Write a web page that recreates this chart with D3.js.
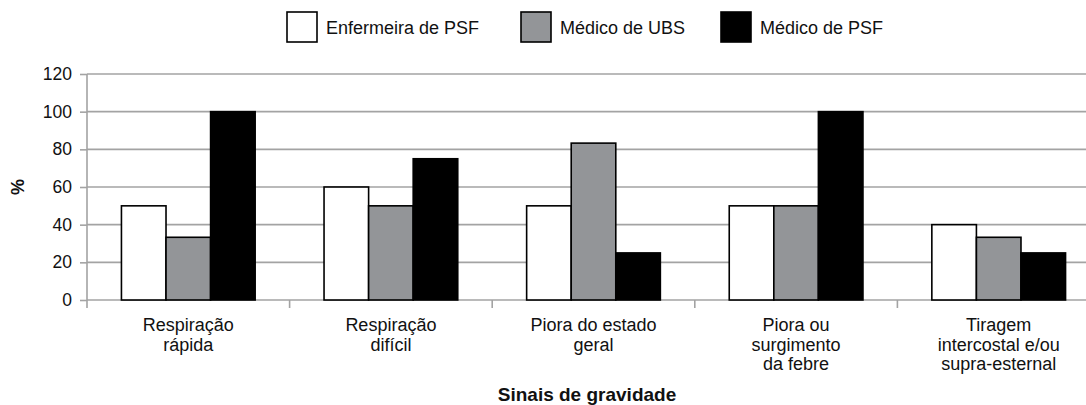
<!DOCTYPE html>
<html>
<head>
<meta charset="utf-8">
<script src="https://cdn.jsdelivr.net/npm/d3@7"></script>
<style>
  html, body { margin: 0; padding: 0; background: #fff; }
  svg { display: block; font-family: "Liberation Sans", Arial, Helvetica, sans-serif; }
</style>
</head>
<body>
<svg id="chart" width="1086" height="405"></svg>
<script>
const categories = [
  ["Respiração", "rápida"],
  ["Respiração", "difícil"],
  ["Piora do estado", "geral"],
  ["Piora ou", "surgimento", "da febre"],
  ["Tiragem", "intercostal e/ou", "supra-esternal"]
];
const seriesNames = ["Enfermeira de PSF", "Médico de UBS", "Médico de PSF"];
const enfermeiraPSF = [50, 60, 50, 50, 40];
const medicoUBS = [33.3, 50, 83.3, 50, 33.3];
const medicoPSF = [100, 75, 25, 100, 25];
const yTicks = [0, 20, 40, 60, 80, 100, 120];
const xTitle = "Sinais de gravidade";
const yTitle = "%";

const seriesValues = [enfermeiraPSF, medicoUBS, medicoPSF];
const fills = ["#ffffff", "#939598", "#000000"];

const svg = d3.select("#chart");
const mLeft = 87, mRight = 1100, mTop = 74, mBottom = 300;
const catKeys = categories.map((c, i) => i);

const x0 = d3.scaleBand().domain(catKeys).range([mLeft, mRight])
  .paddingInner(0.34).paddingOuter(0.17);
const x1 = d3.scaleBand().domain(d3.range(seriesNames.length))
  .range([0, x0.bandwidth()]).padding(0);
const y = d3.scaleLinear().domain([0, 120]).range([mBottom, mTop]);

// gridlines
svg.append("g").selectAll("line").data(yTicks).join("line")
  .attr("x1", mLeft).attr("x2", 1086)
  .attr("y1", d => y(d)).attr("y2", d => y(d))
  .attr("stroke", "#a3a3a3").attr("stroke-width", 1.6);

// y axis
const yAxis = d3.axisLeft(y).tickValues(yTicks).tickSize(7).tickPadding(8);
const gy = svg.append("g").attr("transform", `translate(${mLeft},0)`).call(yAxis);
gy.select(".domain").remove();
gy.selectAll(".tick line").attr("stroke", "#a3a3a3").attr("stroke-width", 1.6);
gy.selectAll(".tick text").attr("font-size", 17.5).attr("fill", "#111")
  .attr("font-family", "'Liberation Sans', Arial, sans-serif");
svg.append("line").attr("x1", mLeft).attr("x2", mLeft).attr("y1", mTop).attr("y2", mBottom + 8)
  .attr("stroke", "#a3a3a3").attr("stroke-width", 1.6);

// x category boundary ticks
const bounds = catKeys.slice(1).map(i => x0(i) - x0.step() * x0.paddingInner() / 2);
svg.append("g").selectAll("line").data(bounds).join("line")
  .attr("x1", d => d).attr("x2", d => d).attr("y1", mBottom).attr("y2", mBottom + 8)
  .attr("stroke", "#a3a3a3").attr("stroke-width", 1.6);

// bars
const groups = svg.append("g").selectAll("g").data(catKeys).join("g")
  .attr("transform", i => `translate(${x0(i)},0)`);
groups.selectAll("rect").data(i => seriesValues.map((s, k) => ({k, v: s[i]}))).join("rect")
  .attr("x", d => x1(d.k))
  .attr("y", d => y(d.v))
  .attr("width", x1.bandwidth())
  .attr("height", d => y(0) - y(d.v))
  .attr("fill", d => fills[d.k])
  .attr("stroke", "#000")
  .attr("stroke-width", 1.6);

// category labels
const labels = svg.append("g").selectAll("text").data(catKeys).join("text")
  .attr("x", i => x0(i) + x0.bandwidth() / 2)
  .attr("y", 331)
  .attr("text-anchor", "middle")
  .attr("font-size", 18).attr("fill", "#111");
labels.selectAll("tspan").data(i => categories[i]).join("tspan")
  .attr("x", function() { return d3.select(this.parentNode).attr("x"); })
  .attr("dy", (d, j) => j === 0 ? 0 : 19.5)
  .text(d => d);

// axis titles
svg.append("text").attr("x", 587).attr("y", 401).attr("text-anchor", "middle")
  .attr("font-size", 19).attr("font-weight", "bold").attr("fill", "#111").text(xTitle);
svg.append("text").attr("transform", "translate(24,187) rotate(-90)")
  .attr("text-anchor", "middle").attr("font-size", 18).attr("font-weight", "bold")
  .attr("fill", "#111").text(yTitle);

// legend
const legendX = [287, 521, 721];
const lg = svg.append("g").selectAll("g").data(seriesNames).join("g")
  .attr("transform", (d, i) => `translate(${legendX[i]},12)`);
lg.append("rect").attr("width", 30).attr("height", 30)
  .attr("fill", (d, i) => fills[i]).attr("stroke", "#000").attr("stroke-width", 1.6);
lg.append("text").attr("x", 39).attr("y", 21.5).attr("font-size", 18).attr("fill", "#111")
  .text(d => d);
</script>
</body>
</html>
